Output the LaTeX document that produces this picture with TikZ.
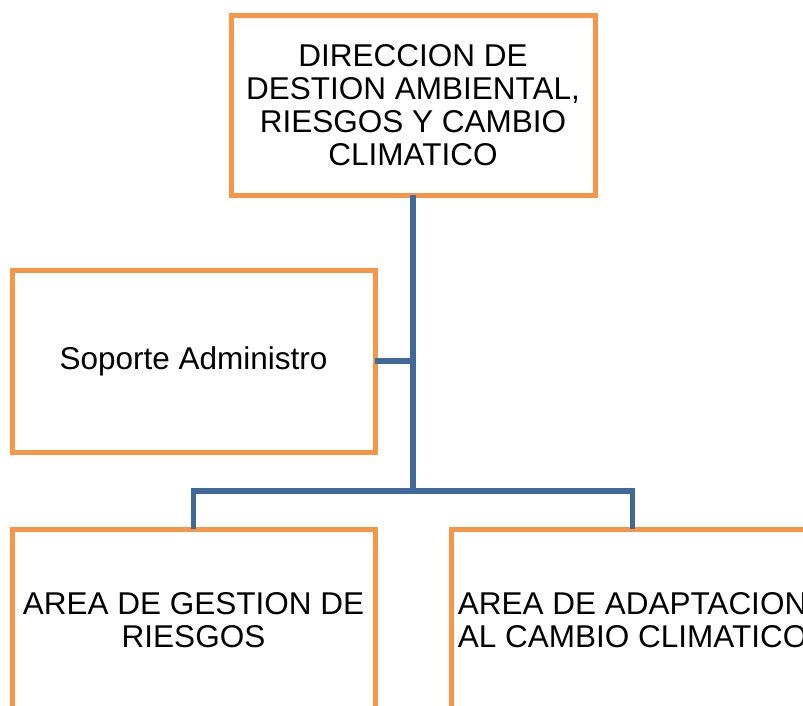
\documentclass[tikz,border=0pt]{standalone}
\usepackage{fontspec}
\setmainfont{Liberation Sans}
\definecolor{boxorange}{HTML}{F79646}
\definecolor{linkblue}{HTML}{40689B}
\begin{document}
\begin{tikzpicture}[x=1pt,y=-1pt,
  orgbox/.style={draw=boxorange, line width=5pt, fill=white, rectangle,
    minimum width=363pt, minimum height=182pt, inner sep=0pt, outer sep=0pt,
    align=center, font=\fontsize{31.5}{33}\selectfont},
  link/.style={draw=linkblue, line width=5.5pt}]
\useasboundingbox (0,0) rectangle (803,706);
\clip (0,0) rectangle (803,706);
\node[orgbox, minimum width=364pt, minimum height=179pt] (top) at (413,105.5)
  {DIRECCION DE\\DESTION AMBIENTAL,\\RIESGOS Y CAMBIO\\CLIMATICO};
\node[orgbox] (sop) at (193.5,361) {Soporte Administro};
\node[orgbox] (left) at (193.5,620) {AREA DE GESTION DE\\RIESGOS};
\node[orgbox] (right) at (632.5,620) {AREA DE ADAPTACION\\AL CAMBIO CLIMATICO};
\coordinate (j) at (413,491);
\begin{scope}[on background layer/.style={}]
\draw[link] (top.south) -- (j);
\draw[link] (sop.east) -- (sop.east -| top.south);
\draw[link, line join=miter] (left.north) |- (j) -| (right.north);
\end{scope}
\end{tikzpicture}
\end{document}
